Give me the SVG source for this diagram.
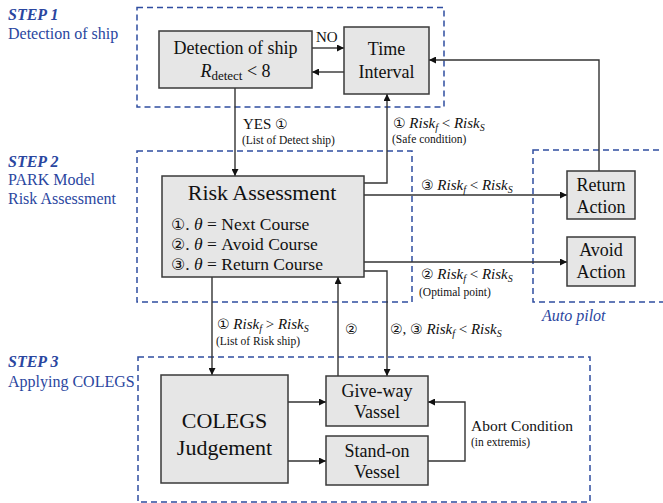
<svg xmlns="http://www.w3.org/2000/svg" width="663" height="503" viewBox="0 0 663 503">
<style>
  .zone{fill:none;stroke:#2f4da0;stroke-width:1.5;stroke-dasharray:6 4}
  .box{fill:#e6e6e6;stroke:#3a3a3a;stroke-width:1.5}
  .t{font-family:"Liberation Serif","Times New Roman",serif;fill:#111}
  .c{text-anchor:middle}
  .blue{font-family:"Liberation Serif","Times New Roman",serif;fill:#2a46a0;font-size:16px}
  .step{font-weight:bold;font-style:italic}
  .ln{fill:none;stroke:#333;stroke-width:1.4}
  .i{font-style:italic}
  .cd{font-family:"DejaVu Sans",sans-serif}
</style>
<defs>
  <marker id="ah" viewBox="0 0 10 10" refX="10" refY="5" markerWidth="7" markerHeight="7" markerUnits="userSpaceOnUse" orient="auto">
    <path d="M0,0 L10,5 L0,10 z" fill="#111"/>
  </marker>
</defs>
<rect width="663" height="503" fill="#fff"/>

<g id="zones">
  <rect class="zone" x="137" y="7.5" width="307" height="99.5"/>
  <rect class="zone" x="137" y="151" width="275" height="151"/>
  <rect class="zone" x="533" y="150" width="140" height="152"/>
  <rect class="zone" x="138" y="357" width="452" height="145"/>
</g>

<g id="step-labels">
  <text class="blue step" x="8" y="20">STEP 1</text>
  <text class="blue" x="8" y="39">Detection of ship</text>
  <text class="blue step" x="8" y="167">STEP 2</text>
  <text class="blue" x="8" y="185">PARK Model</text>
  <text class="blue" x="8" y="204">Risk Assessment</text>
  <text class="blue step" x="8" y="367">STEP 3</text>
  <text class="blue" x="8" y="387">Applying COLEGS</text>
  <text class="blue i" x="542" y="321" font-size="15">Auto pilot</text>
</g>

<g id="connectors">
  <line class="ln" x1="312" y1="48" x2="344" y2="48" marker-end="url(#ah)"/>
  <line class="ln" x1="344" y1="72" x2="312" y2="72" marker-end="url(#ah)"/>
  <polyline class="ln" points="599,171 599,60 429,60" marker-end="url(#ah)"/>
  <line class="ln" x1="235" y1="88" x2="235" y2="176" marker-end="url(#ah)"/>
  <polyline class="ln" points="364,183 387,183 387,94" marker-end="url(#ah)"/>
  <line class="ln" x1="364" y1="195" x2="567" y2="195" marker-end="url(#ah)"/>
  <line class="ln" x1="364" y1="262" x2="567" y2="262" marker-end="url(#ah)"/>
  <polyline class="ln" points="364,271 387,271 387,376" marker-end="url(#ah)"/>
  <line class="ln" x1="212" y1="277" x2="212" y2="375" marker-end="url(#ah)"/>
  <line class="ln" x1="338" y1="376" x2="338" y2="277" marker-end="url(#ah)"/>
  <line class="ln" x1="288" y1="402" x2="326" y2="402" marker-end="url(#ah)"/>
  <line class="ln" x1="288" y1="461" x2="326" y2="461" marker-end="url(#ah)"/>
  <polyline class="ln" points="428,461 465,461 465,402 428,402" marker-end="url(#ah)"/>
</g>

<g id="connector-labels">
  <text class="t" x="316" y="42" font-size="15">NO</text>
  <text class="t" x="243" y="129" font-size="15">YES <tspan class="cd" font-size="14">①</tspan></text>
  <text class="t" x="242" y="144" font-size="11.5">(List of Detect ship)</text>
  <text class="t" x="393" y="128" font-size="15"><tspan class="cd" font-size="14">①</tspan> <tspan class="i">Risk</tspan><tspan class="i" font-size="10" dy="3">f</tspan><tspan dy="-3"> &lt; </tspan><tspan class="i">Risk</tspan><tspan class="i" font-size="10" dy="3">S</tspan></text>
  <text class="t" x="392" y="143" font-size="11.5">(Safe condition)</text>
  <text class="t" x="421" y="190" font-size="15"><tspan class="cd" font-size="14">③</tspan> <tspan class="i">Risk</tspan><tspan class="i" font-size="10" dy="3">f</tspan><tspan dy="-3"> &lt; </tspan><tspan class="i">Risk</tspan><tspan class="i" font-size="10" dy="3">S</tspan></text>
  <text class="t" x="421" y="279" font-size="15"><tspan class="cd" font-size="14">②</tspan> <tspan class="i">Risk</tspan><tspan class="i" font-size="10" dy="3">f</tspan><tspan dy="-3"> &lt; </tspan><tspan class="i">Risk</tspan><tspan class="i" font-size="10" dy="3">S</tspan></text>
  <text class="t" x="419" y="296" font-size="11.5">(Optimal point)</text>
  <text class="t" x="217" y="329" font-size="15"><tspan class="cd" font-size="14">①</tspan> <tspan class="i">Risk</tspan><tspan class="i" font-size="10" dy="3">f</tspan><tspan dy="-3"> &gt; </tspan><tspan class="i">Risk</tspan><tspan class="i" font-size="10" dy="3">S</tspan></text>
  <text class="t" x="216" y="345" font-size="11.5">(List of Risk ship)</text>
  <text class="t cd" x="345" y="334" font-size="14">②</text>
  <text class="t" x="390" y="334" font-size="15"><tspan class="cd" font-size="14">②</tspan>, <tspan class="cd" font-size="14">③</tspan> <tspan class="i">Risk</tspan><tspan class="i" font-size="10" dy="3">f</tspan><tspan dy="-3"> &lt; </tspan><tspan class="i">Risk</tspan><tspan class="i" font-size="10" dy="3">S</tspan></text>
  <text class="t" x="471" y="431" font-size="15.5">Abort Condition</text>
  <text class="t" x="471" y="446" font-size="11.5">(in extremis)</text>
</g>

<g id="detection">
  <rect class="box" x="159" y="31" width="153" height="57"/>
  <text class="t c" x="235.5" y="54" font-size="18">Detection of ship</text>
  <text class="t c" x="235.5" y="77" font-size="18"><tspan class="i">R</tspan><tspan font-size="13" dy="3">detect</tspan><tspan dy="-3"> &lt; 8</tspan></text>
</g>

<g id="time-interval">
  <rect class="box" x="344" y="27" width="85" height="67"/>
  <text class="t c" x="386.5" y="55" font-size="18">Time</text>
  <text class="t c" x="386.5" y="78" font-size="18">Interval</text>
</g>

<g id="risk-assessment">
  <rect class="box" x="162" y="176" width="202" height="101"/>
  <text class="t c" x="262" y="200" font-size="22">Risk Assessment</text>
  <text class="t" x="171" y="230" font-size="17.5"><tspan class="cd" font-size="16">①</tspan>. <tspan class="i">θ</tspan> = Next Course</text>
  <text class="t" x="171" y="250" font-size="17.5"><tspan class="cd" font-size="16">②</tspan>. <tspan class="i">θ</tspan> = Avoid Course</text>
  <text class="t" x="171" y="270" font-size="17.5"><tspan class="cd" font-size="16">③</tspan>. <tspan class="i">θ</tspan> = Return Course</text>
</g>

<g id="return-action">
  <rect class="box" x="567" y="171" width="68" height="48"/>
  <text class="t c" x="601" y="191" font-size="18">Return</text>
  <text class="t c" x="601" y="213" font-size="18">Action</text>
</g>

<g id="avoid-action">
  <rect class="box" x="567" y="237" width="68" height="49"/>
  <text class="t c" x="601" y="256" font-size="18">Avoid</text>
  <text class="t c" x="601" y="278" font-size="18">Action</text>
</g>

<g id="colegs">
  <rect class="box" x="161" y="375" width="127" height="108"/>
  <text class="t c" x="224.5" y="428" font-size="22">COLEGS</text>
  <text class="t c" x="224.5" y="455" font-size="22">Judgement</text>
</g>

<g id="give-way">
  <rect class="box" x="326" y="376" width="102" height="50"/>
  <text class="t c" x="377" y="397" font-size="18">Give-way</text>
  <text class="t c" x="377" y="418" font-size="18">Vassel</text>
</g>

<g id="stand-on">
  <rect class="box" x="326" y="436" width="102" height="49"/>
  <text class="t c" x="377" y="457" font-size="18">Stand-on</text>
  <text class="t c" x="377" y="478" font-size="18">Vessel</text>
</g>
</svg>
